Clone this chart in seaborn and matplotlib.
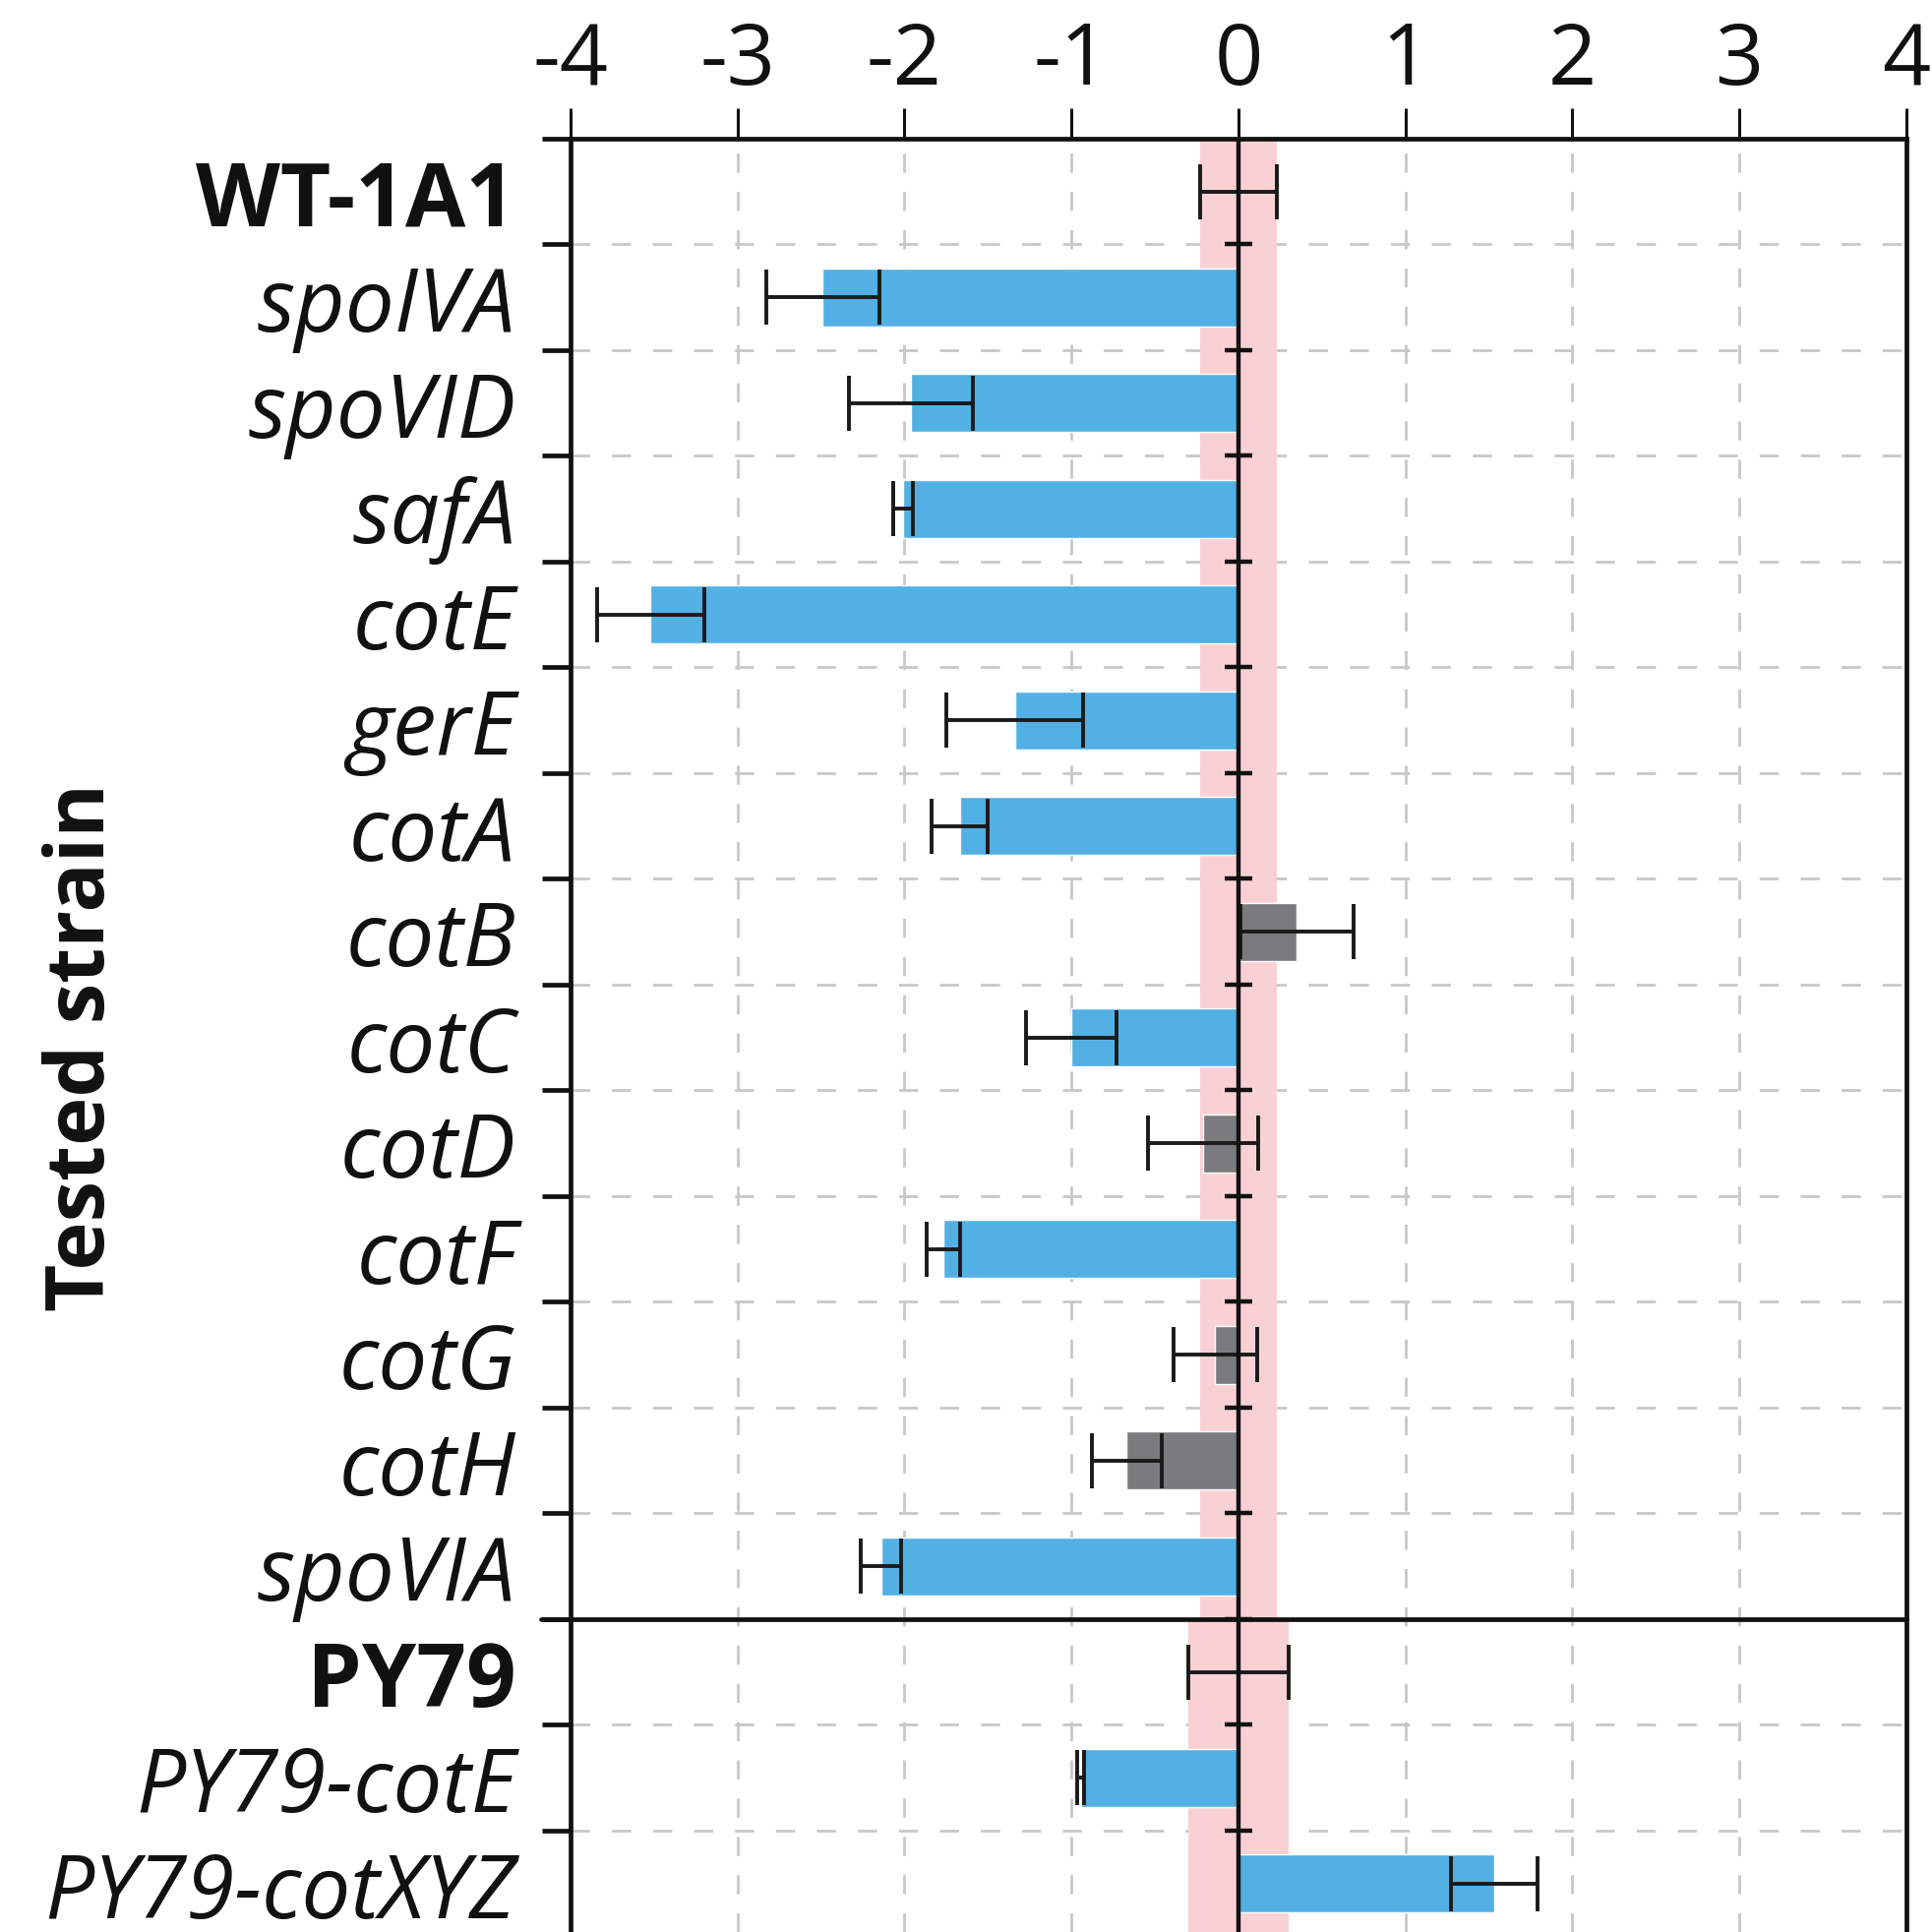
import numpy as np
import pandas as pd
import matplotlib
matplotlib.use("Agg")
import matplotlib.pyplot as plt
import seaborn as sns

# strains, top to bottom
strains = ["WT-1A1", "spoIVA", "spoVID", "safA", "cotE", "gerE", "cotA", "cotB",
           "cotC", "cotD", "cotF", "cotG", "cotH", "spoVIA",
           "PY79", "PY79-cotE", "PY79-cotXYZ"]
values = [0.0, -2.49, -1.96, -2.01, -3.52, -1.34, -1.67, 0.35,
          -1.00, -0.21, -1.77, -0.14, -0.67, -2.14,
          0.0, -0.945, 1.53]
errors = [0.23, 0.34, 0.37, 0.06, 0.32, 0.41, 0.17, 0.34,
          0.27, 0.33, 0.10, 0.25, 0.21, 0.12,
          0.30, 0.02, 0.26]
groups = ["ref", "sig", "sig", "sig", "sig", "sig", "sig", "ns",
          "sig", "ns", "sig", "ns", "ns", "sig",
          "ref", "sig", "sig"]
sections = [("WT-1A1", 0, 13), ("PY79", 14, 16)]
xticks = [-4, -3, -2, -1, 0, 1, 2, 3, 4]
xtick_labels = ["-4", "-3", "-2", "-1", "0", "1", "2", "3", "4"]

palette = {"ref": "#53B0E4", "sig": "#53B0E4", "ns": "#7A7B7D"}
band_color = "#F9D1D4"
grid_color = "#C8C8C8"

df = pd.DataFrame({"strain": strains, "value": values, "err": errors, "group": groups})

sns.set_style("white")
plt.rcParams["font.family"] = ["Open Sans", "DejaVu Sans"]

fig = plt.figure(figsize=(19.65, 19.65), dpi=100)
ax = fig.add_axes([580 / 1965, 0.0, 1358 / 1965, 1823 / 1965])

sns.barplot(data=df, x="value", y="strain", hue="group", palette=palette,
            order=strains, dodge=False, width=0.55, legend=False,
            saturation=1, ax=ax, zorder=3)

ypos = np.arange(len(strains))
ax.errorbar(df["value"], ypos, xerr=df["err"], fmt="none", ecolor="#1a1a1a",
            elinewidth=2.8, capsize=20, capthick=2.8, zorder=6)

# pink band = spread of the reference strain in each section
for name, start, end in sections:
    half = df.loc[df["strain"] == name, "err"].iloc[0]
    ax.fill_betweenx([start - 0.5, end + 0.5], -half, half, color=band_color,
                     lw=0, zorder=2)

ax.axvline(0, color="#111111", lw=3.2, zorder=7)
ax.axhline(sections[1][1] - 0.5, xmin=-0.022, xmax=1, color="#111111", lw=3.4,
           clip_on=False, zorder=8)

bounds = np.arange(-0.5, len(strains) - 1, 1.0)
ax.plot(np.zeros(len(bounds) - 1), bounds[1:], ls="none", marker="_",
        ms=20, mew=3.2, color="#111111", zorder=8)

ax.set_xlim(-4, 4)
ax.set_ylim(16.46, -0.5)

ax.xaxis.tick_top()
ax.set_xticks(xticks)
ax.set_xticklabels(xtick_labels, fontsize=62)
ax.tick_params(axis="x", direction="out", length=22, width=2.2, pad=3,
               color="#111111", labelcolor="#111111")

ax.set_yticks(ypos)
ax.set_yticks(bounds, minor=True)
ax.tick_params(axis="y", which="major", length=0, pad=40, labelsize=64,
               labelcolor="#111111")
ax.tick_params(axis="y", which="minor", direction="out", length=21, width=3.4,
               color="#111111", left=True)
refs = [s[0] for s in sections]
for lab in ax.get_yticklabels():
    if lab.get_text() in refs:
        lab.set_fontweight("bold")
    else:
        lab.set_fontstyle("italic")

ax.grid(axis="x", which="major", color=grid_color, lw=2, ls=(0, (7, 7)), zorder=0)
ax.grid(axis="y", which="minor", color=grid_color, lw=2, ls=(0, (7, 8)), zorder=0)
ax.grid(axis="y", which="major", visible=False)
ax.set_axisbelow(True)

for side in ["top", "left", "right"]:
    ax.spines[side].set_linewidth(3.4)
    ax.spines[side].set_color("#111111")
ax.spines["bottom"].set_visible(False)

ax.set_xlabel("")
ax.set_ylabel("Tested strain", fontsize=60, fontweight="bold", va="center",
              color="#111111")
ax.yaxis.set_label_coords(-0.365, 0.494)

fig.savefig("out.png", dpi=100)
